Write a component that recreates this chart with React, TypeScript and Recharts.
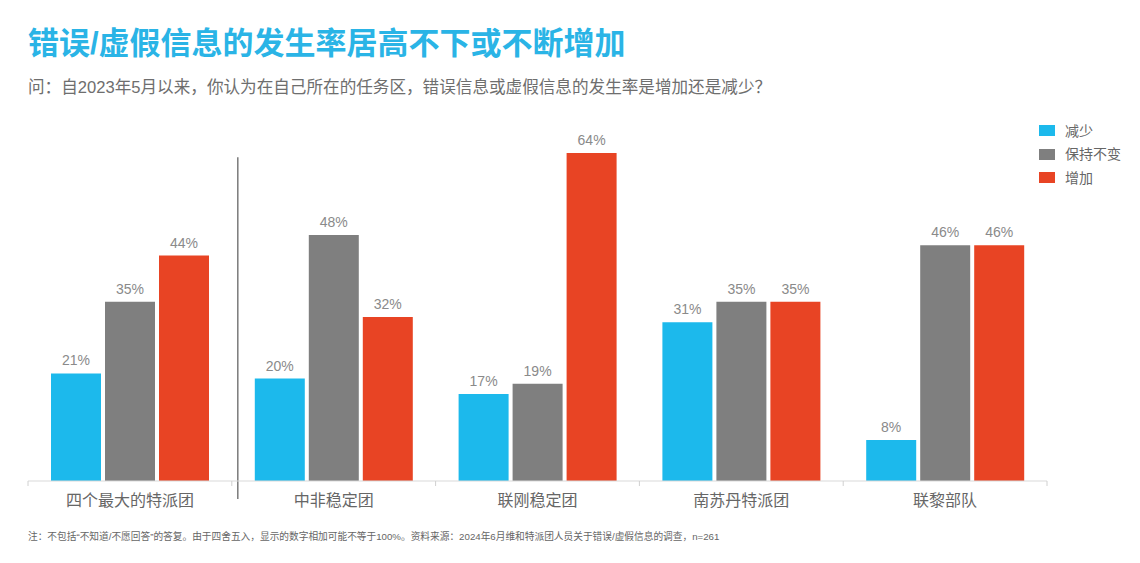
import { BarChart, Bar, XAxis, YAxis, LabelList, ReferenceLine } from 'recharts'

const FONT = '"Liberation Sans", "Noto Sans CJK SC", sans-serif'
const BLUE = '#1cb9ec'
const GREY = '#7f7f7f'
const RED = '#e84424'
const TITLE_BLUE = '#2ab4e6'

const categories = ['四个最大的特派团', '中非稳定团', '联刚稳定团', '南苏丹特派团', '联黎部队']
const decreased = [21, 20, 17, 31, 8]
const unchanged = [35, 48, 19, 35, 46]
const increased = [44, 32, 64, 35, 46]

const series = [
  { key: 'decreased', name: '减少', color: BLUE },
  { key: 'unchanged', name: '保持不变', color: GREY },
  { key: 'increased', name: '增加', color: RED },
]

const data = categories.map((name, i) => ({
  name,
  decreased: decreased[i],
  unchanged: unchanged[i],
  increased: increased[i],
}))

// category label plus small ticks on the band edges
function CategoryTick(props: any) {
  const { x, y, payload, index } = props
  const half = payload?.offset ?? 102
  const last = index === categories.length - 1
  return (
    <g>
      <line x1={x - half} y1={y} x2={x - half} y2={y + 5} stroke="#d0d0d0" />
      {last && <line x1={x + half} y1={y} x2={x + half} y2={y + 5} stroke="#d0d0d0" />}
      <text x={x} y={y + 25} textAnchor="middle" fill="#666" fontSize={16} fontFamily={FONT}>
        {payload.value}
      </text>
    </g>
  )
}

// vertical divider between the big-four group and the individual missions
function Divider(props: any) {
  const { x1, y1, y2 } = props
  return <line x1={x1 + 6} y1={y1 + 18} x2={x1 + 6} y2={y2 + 35} stroke="#7a7a7a" strokeWidth={1.5} />
}

export default function App() {
  return (
    <div style={{ position: 'relative', width: 1140, height: 563, background: '#fff', fontFamily: FONT }}>
      <style>{'body{margin:0}'}</style>
      <div
        style={{
          position: 'absolute',
          left: 28,
          top: 27,
          fontSize: 31,
          lineHeight: '33px',
          fontWeight: 700,
          color: TITLE_BLUE,
          whiteSpace: 'nowrap',
        }}
      >
        错误/虚假信息的发生率居高不下或不断增加
      </div>
      <div
        style={{
          position: 'absolute',
          left: 28,
          top: 78,
          fontSize: 16.6,
          lineHeight: '20px',
          color: '#6e6e6e',
          whiteSpace: 'nowrap',
        }}
      >
        问：自2023年5月以来，你认为在自己所在的任务区，错误信息或虚假信息的发生率是增加还是减少？
      </div>

      <BarChart
        width={1140}
        height={563}
        data={data}
        margin={{ top: 122.25, right: 93, bottom: 52, left: 28 }}
        barCategoryGap={23}
        barGap={4}
      >
        <YAxis hide domain={[0, 70]} />
        <XAxis
          dataKey="name"
          height={30}
          axisLine={{ stroke: '#d9d9d9' }}
          tickLine={false}
          tickSize={0}
          tickMargin={0}
          interval={0}
          tick={<CategoryTick />}
        />
        <ReferenceLine x={categories[0]} position="end" stroke="#7a7a7a" shape={<Divider />} />
        {series.map((s) => (
          <Bar key={s.key} dataKey={s.key} name={s.name} fill={s.color} isAnimationActive={false}>
            <LabelList
              dataKey={s.key}
              position="top"
              offset={8}
              formatter={(v: any) => `${v}%`}
              fill="#8a8a8a"
              fontSize={14}
              fontFamily={FONT}
            />
          </Bar>
        ))}
      </BarChart>

      <div style={{ position: 'absolute', left: 1039, top: 119 }}>
        {series.map((s) => (
          <div key={s.key} style={{ display: 'flex', alignItems: 'center', height: 23.5 }}>
            <span style={{ display: 'inline-block', width: 16, height: 11, background: s.color, marginRight: 10 }} />
            <span style={{ fontSize: 14, color: '#666', lineHeight: '16px' }}>{s.name}</span>
          </div>
        ))}
      </div>

      <div
        style={{
          position: 'absolute',
          left: 28,
          top: 531,
          fontSize: 9.7,
          lineHeight: '12px',
          color: '#666',
          whiteSpace: 'nowrap',
        }}
      >
        注：不包括“不知道/不愿回答”的答复。由于四舍五入，显示的数字相加可能不等于100%。资料来源：2024年6月维和特派团人员关于错误/虚假信息的调查，n=261
      </div>
    </div>
  )
}
